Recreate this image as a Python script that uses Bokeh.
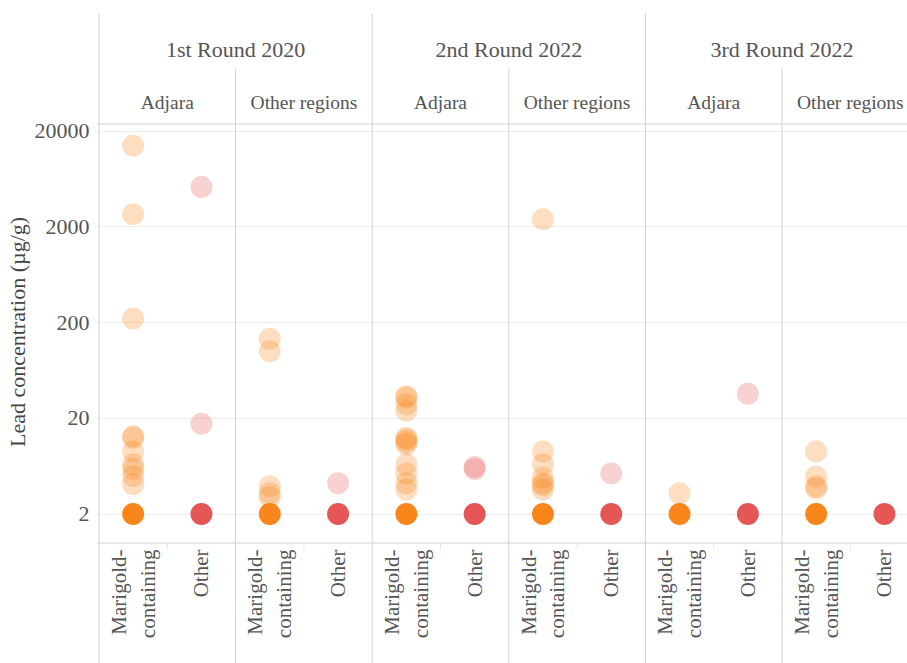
import math
from bokeh.plotting import figure
from bokeh.models import Range1d, FixedTicker, NumeralTickFormatter, ColumnDataSource
from bokeh.core.properties import value
from bokeh.embed import file_html
from bokeh.resources import INLINE

# ---------------- data ----------------
rounds = ["1st Round 2020", "2nd Round 2022", "3rd Round 2022"]
regions = ["Adjara", "Other regions"]
categories = ["Marigold-containing", "Other"]
category_labels = ["Marigold-\ncontaining", "Other"]
y_ticks = [2, 20, 200, 2000, 20000]
y_title = "Lead concentration (µg/g)"

# measured lead concentrations above 2 µg/g, per round / region / category
r1_adjara_marigold = [14000, 2700, 220, 13, 12.5, 9.0, 6.6, 5.9, 5.0, 4.1]
r1_adjara_other = [5200, 17.5]
r1_other_marigold = [135, 100, 3.9, 3.3, 3.0]
r1_other_other = [4.2]
r2_adjara_marigold = [34, 33, 28, 24, 12.5, 12, 11.3, 10.7, 6.6, 5.3, 4.2, 3.6]
r2_adjara_other = [6.2, 5.9]
r2_other_marigold = [2400, 9.0, 6.6, 4.8, 4.2, 4.0, 3.6]
r2_other_other = [5.3]
r3_adjara_marigold = [3.3]
r3_adjara_other = [36]
r3_other_marigold = [9.0, 4.9, 3.9, 3.7]
r3_other_other = []

# samples at the 2 µg/g level (one stacked marker per group)
r1_low = [[2, 2], [2, 2]]
r2_low = [[2, 2], [2, 2]]
r3_low = [[2, 2], [2, 2]]

groups = [
    [[r1_adjara_marigold, r1_adjara_other], [r1_other_marigold, r1_other_other]],
    [[r2_adjara_marigold, r2_adjara_other], [r2_other_marigold, r2_other_other]],
    [[r3_adjara_marigold, r3_adjara_other], [r3_other_marigold, r3_other_other]],
]
low_groups = [r1_low, r2_low, r3_low]

cat_colors = ["#f8861a", "#e45756"]
cat_offsets = [0.25, 0.75]

# ---------------- layout helpers (screen geometry, page pixels) ----------------
W, H = 907, 663
PX_PER_DECADE = 95.75
PX_OF_2 = 513.5
X0_PX = 98.5
PANEL_PX = 136.6
FRAME_L, FRAME_R, FRAME_T, FRAME_B = 97, W, 0, H


def val_at(py):
    return 2 * 10 ** ((PX_OF_2 - py) / PX_PER_DECADE)


def x_at(px):
    return (px - X0_PX) / PANEL_PX


FONT = "'Liberation Serif', 'Times New Roman', serif"
TEXT_COLOR = "#555555"
LINE_COLOR = "#d0d0d0"

# ---------------- build sources ----------------
xs, ys, cs = [], [], []
lx, ly, lc = [], [], []
for ri, rnd in enumerate(groups):
    for gi, reg in enumerate(rnd):
        for ci, vals in enumerate(reg):
            panel = ri * 2 + gi
            for v in vals:
                xs.append(panel + cat_offsets[ci])
                ys.append(v)
                cs.append(cat_colors[ci])
            lx.append(panel + cat_offsets[ci])
            ly.append(low_groups[ri][gi][ci])
            lc.append(cat_colors[ci])

src = ColumnDataSource(dict(x=xs, y=ys, c=cs))
low_src = ColumnDataSource(dict(x=lx, y=ly, c=lc))

p = figure(width=W, height=H, output_backend="svg", toolbar_location=None,
           x_range=Range1d(x_at(FRAME_L), x_at(FRAME_R)),
           y_range=Range1d(val_at(FRAME_B), val_at(FRAME_T)),
           y_axis_type="log", x_axis_location=None,
           min_border_left=FRAME_L, min_border_right=0, min_border_top=0, min_border_bottom=0)
p.outline_line_color = None
p.background_fill_color = "white"
p.border_fill_color = "white"

ticker = FixedTicker(ticks=y_ticks, minor_ticks=[])
ax = p.yaxis[0]
ax.ticker = ticker
ax.formatter = NumeralTickFormatter(format="0")
ax.axis_line_color = None
ax.major_tick_line_color = None
ax.minor_tick_line_color = None
ax.major_tick_out = 0
ax.minor_tick_out = 0
ax.major_tick_in = 0
ax.minor_tick_in = 0
ax.major_label_standoff = 8
ax.major_label_text_font = FONT
ax.major_label_text_font_size = "22px"
ax.major_label_text_color = TEXT_COLOR
ax.axis_label = y_title
ax.axis_label_text_font = FONT
ax.axis_label_text_font_size = "22px"
ax.axis_label_text_font_style = "normal"
ax.axis_label_text_color = "#444444"
ax.axis_label_standoff = 2

p.ygrid.ticker = ticker
p.ygrid.grid_line_color = "#eeeeee"
p.ygrid.grid_line_width = 1
p.xgrid.grid_line_color = None

# horizontal frame lines (header bottom and axis line)
for py in (123.5, 542.5):
    p.segment(x0=[x_at(FRAME_L)], x1=[x_at(FRAME_R)], y0=[val_at(py)], y1=[val_at(py)],
              line_color=LINE_COLOR, line_width=1)

# vertical separators
n_panels = len(rounds) * len(regions)
round_x = [ri * len(regions) for ri in range(len(rounds))]
region_x = [ri * len(regions) + gi for ri in range(len(rounds)) for gi in range(1, len(regions))]
p.segment(x0=round_x, x1=round_x, y0=[val_at(13)] * len(round_x), y1=[val_at(FRAME_B)] * len(round_x),
          line_color=LINE_COLOR, line_width=1)
p.segment(x0=region_x, x1=region_x, y0=[val_at(68)] * len(region_x), y1=[val_at(FRAME_B)] * len(region_x),
          line_color=LINE_COLOR, line_width=1)
mid_x = [k + 0.5 for k in range(n_panels)]
p.segment(x0=mid_x, x1=mid_x, y0=[val_at(542.5)] * n_panels, y1=[val_at(549)] * n_panels,
          line_color="#e8e8e8", line_width=1)

# points
p.scatter("x", "y", source=low_src, size=22, fill_color="c", fill_alpha=1.0, line_color=None)
p.scatter("x", "y", source=src, size=22, fill_color="c", fill_alpha=0.27, line_color=None)

# headers
p.text(x=[ri * len(regions) + len(regions) / 2 for ri in range(len(rounds))],
       y=[val_at(49)] * len(rounds), text=rounds,
       text_align="center", text_baseline="alphabetic",
       text_font=value(FONT), text_font_size="22px", text_color=TEXT_COLOR)
p.text(x=[k + 0.5 for k in range(n_panels)], y=[val_at(102)] * n_panels,
       text=[regions[k % len(regions)] for k in range(n_panels)],
       text_align="center", text_baseline="alphabetic",
       text_font=value(FONT), text_font_size="19.5px", text_color=TEXT_COLOR)

# category labels (rotated)
cx, ct = [], []
for k in range(n_panels):
    for ci in range(len(categories)):
        cx.append(k + cat_offsets[ci])
        ct.append(category_labels[ci])
p.text(x=cx, y=[val_at(549)] * len(cx), text=ct, angle=math.pi / 2,
       text_align="right", text_baseline="middle",
       text_font=value(FONT), text_font_size="21px", text_color=TEXT_COLOR)

open("out.html", "w").write(file_html(p, INLINE))
